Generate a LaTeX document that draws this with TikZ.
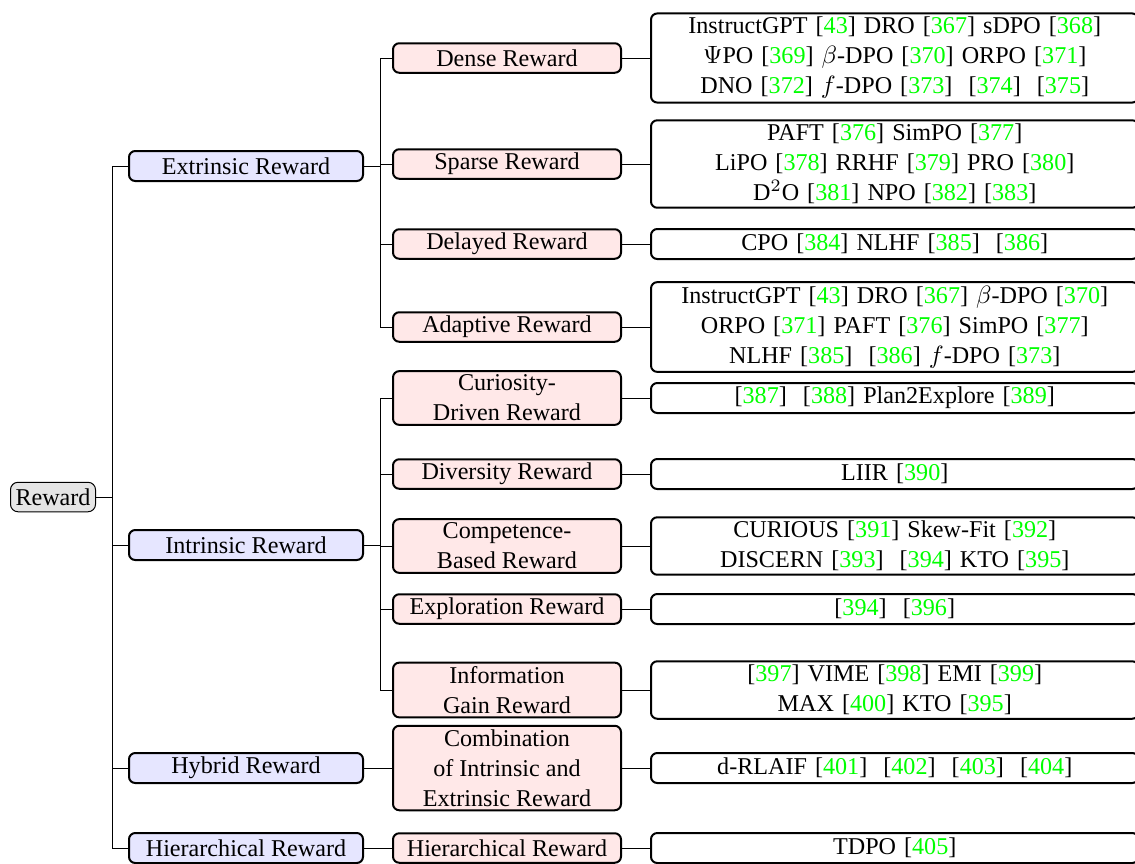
\documentclass[tikz,border=0pt]{standalone}
\usepackage{fontspec}
\setmainfont{Liberation Serif}
\definecolor{citegreen}{RGB}{0,255,0}
\definecolor{lonefill}{RGB}{230,230,255}
\definecolor{ltwofill}{RGB}{255,232,232}
\definecolor{rootfill}{RGB}{229,229,229}
\newcommand{\rc}[1]{[\textcolor{citegreen}{#1}]}
\tikzset{
  rootbox/.style={draw, line width=0.4pt, fill=rootfill, rounded corners=3pt, inner xsep=2pt, inner ysep=1.5pt, minimum height=11.8pt, anchor=west},
  lonebox/.style={draw, line width=0.8pt, fill=lonefill, rounded corners=2.5pt, minimum width=93.6pt, minimum height=12pt, inner sep=1.5pt, anchor=west},
  ltwobox/.style={draw, line width=0.8pt, fill=ltwofill, rounded corners=2.5pt, minimum width=91.2pt, minimum height=11.8pt, inner sep=1.5pt, align=center, anchor=west},
  leafbox/.style={draw, line width=0.8pt, fill=white, rounded corners=2.5pt, text width=191pt, inner xsep=2pt, inner ysep=1.5pt, minimum height=12pt, align=center, anchor=west},
  conn/.style={draw, line width=0.4pt}
}
\begin{document}
\begin{tikzpicture}[x=0.4pt,y=-0.4pt, font=\fontsize{9.65pt}{12pt}\selectfont]
\useasboundingbox (0,0) rectangle (1135,863);
\clip (0,0) rectangle (1135,863);
% root
\node[rootbox] (root) at (10,497) {Reward};
% level 1
\node[lonebox] (ext) at (128,166) {Extrinsic Reward};
\node[lonebox] (int) at (128,545) {Intrinsic Reward};
\node[lonebox] (hyb) at (128,768) {Hybrid Reward};
\node[lonebox] (hie) at (128,848) {Hierarchical Reward};
% level 2
\node[ltwobox] (dense) at (392,58) {Dense Reward};
\node[ltwobox] (sparse) at (392,164) {Sparse Reward};
\node[ltwobox] (delay) at (392,244) {Delayed Reward};
\node[ltwobox] (adapt) at (392,327) {Adaptive Reward};
\node[ltwobox] (curio) at (392,398) {Curiosity-\\Driven Reward};
\node[ltwobox] (diver) at (392,474) {Diversity Reward};
\node[ltwobox] (compe) at (392,546) {Competence-\\Based Reward};
\node[ltwobox] (explo) at (392,609) {Exploration Reward};
\node[ltwobox] (infog) at (392,690) {Information\\Gain Reward};
\node[ltwobox] (combi) at (392,768) {Combination\\of Intrinsic and\\Extrinsic Reward};
\node[ltwobox] (hierr) at (392,848) {Hierarchical Reward};
% leaves
\node[leafbox] (ldense) at (650,58) {InstructGPT \rc{43} DRO \rc{367} sDPO \rc{368}\\ $\Psi$PO \rc{369} $\beta$-DPO \rc{370} ORPO \rc{371}\\ DNO \rc{372} $f$-DPO \rc{373}~ \rc{374}~ \rc{375}};
\node[leafbox] (lsparse) at (650,164) {PAFT \rc{376} SimPO \rc{377}\\ LiPO \rc{378} RRHF \rc{379} PRO \rc{380}\\ D$^2$O \rc{381} NPO \rc{382} \rc{383}};
\node[leafbox] (ldelay) at (650,244) {CPO \rc{384} NLHF \rc{385}~ \rc{386}};
\node[leafbox] (ladapt) at (650,327) {InstructGPT \rc{43} DRO \rc{367} $\beta$-DPO \rc{370}\\ ORPO \rc{371} PAFT \rc{376} SimPO \rc{377}\\ NLHF \rc{385}~ \rc{386} $f$-DPO \rc{373}};
\node[leafbox] (lcurio) at (650,398) {\rc{387}~ \rc{388} Plan2Explore \rc{389}};
\node[leafbox] (ldiver) at (650,474) {LIIR \rc{390}};
\node[leafbox] (lcompe) at (650,546) {CURIOUS \rc{391} Skew-Fit \rc{392}\\ DISCERN \rc{393}~ \rc{394} KTO \rc{395}};
\node[leafbox] (lexplo) at (650,609) {\rc{394}~ \rc{396}};
\node[leafbox] (linfog) at (650,690) {\rc{397} VIME \rc{398} EMI \rc{399}\\ MAX \rc{400} KTO \rc{395}};
\node[leafbox] (lcombi) at (650,768) {d-RLAIF \rc{401}~ \rc{402}~ \rc{403}~ \rc{404}};
\node[leafbox] (lhierr) at (650,848) {TDPO \rc{405}};
% connectors root -> level 1
\foreach \c in {ext,int,hyb,hie}
  \draw[conn] (root.east) -- ++(16,0) |- (\c.west);
% extrinsic -> level 2
\foreach \c in {dense,sparse,delay,adapt}
  \draw[conn] (ext.east) -- ++(16,0) |- (\c.west);
% intrinsic -> level 2
\foreach \c in {curio,diver,compe,explo,infog}
  \draw[conn] (int.east) -- ++(16,0) |- (\c.west);
\draw[conn] (hyb.east) -- (combi.west);
\draw[conn] (hie.east) -- (hierr.west);
% level 2 -> leaves
\draw[conn] (dense.east) -- (ldense.west);
\draw[conn] (sparse.east) -- (lsparse.west);
\draw[conn] (delay.east) -- (ldelay.west);
\draw[conn] (adapt.east) -- (ladapt.west);
\draw[conn] (curio.east) -- (lcurio.west);
\draw[conn] (diver.east) -- (ldiver.west);
\draw[conn] (compe.east) -- (lcompe.west);
\draw[conn] (explo.east) -- (lexplo.west);
\draw[conn] (infog.east) -- (linfog.west);
\draw[conn] (combi.east) -- (lcombi.west);
\draw[conn] (hierr.east) -- (lhierr.west);
\end{tikzpicture}
\end{document}
